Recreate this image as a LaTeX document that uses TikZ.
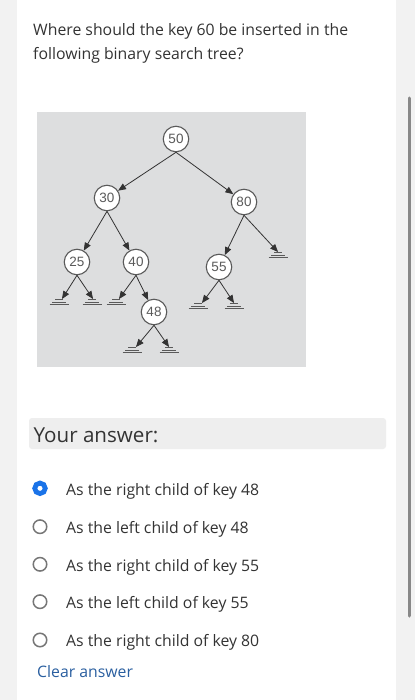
\documentclass[tikz,border=0pt]{standalone}
\usepackage{fontspec}
\setmainfont{Open Sans}
\newfontfamily\keyfont{Liberation Sans}
\usetikzlibrary{positioning}
\usetikzlibrary{arrows}
\definecolor{pagegray}{RGB}{242,242,242}
\definecolor{figgray}{RGB}{221,222,223}
\definecolor{ink}{RGB}{51,51,51}
\definecolor{treeink}{RGB}{90,90,90}
\definecolor{radioblue}{RGB}{26,115,232}
\definecolor{radiogray}{RGB}{118,118,118}
\definecolor{linkblue}{RGB}{42,95,160}
\definecolor{answergray}{RGB}{238,238,238}
\definecolor{scrollgray}{RGB}{136,136,136}
\tikzstyle{every key} = []
\tikzstyle{key} = [circle, draw=treeink, fill=white, line width=1.1pt, minimum size=25.5pt, inner sep=0pt, text=treeink, font=\keyfont\fontsize{13.5}{14}\selectfont, every key]
\tikzstyle{branch} = [->, >=triangle 45, draw=ink, line width=0.8pt]
\tikzstyle{nil} = [draw=treeink, line width=0.8pt]
\tikzstyle{plain} = [anchor=base west, inner sep=0pt, text=ink, font=\fontsize{15.8}{19}\selectfont]
\tikzstyle{radio} = [circle, draw=radiogray, line width=1.5pt, minimum size=13.5pt, inner sep=0pt]

% three bars under a null pointer
\newcommand{\nilmark}[2]{%
  \draw[nil] (#1) ++(#2-4,0.6) -- ++(8,0);
  \draw[nil] (#1) ++(#2-7,3.1) -- ++(14,0);
  \draw[nil] (#1) ++(#2-9.5,5.6) -- ++(19,0);
}

\begin{document}
\begin{tikzpicture}[x=1pt, y=-1pt]
    \useasboundingbox (0,0) rectangle (415,700);
    \fill[pagegray] (0,0) rectangle (415,700);
    \fill[white] (17,0) rectangle (396,700);
    \draw[scrollgray, line width=3pt, line cap=round] (409,98) -- (409,616);

    % question
    \node[plain] (q1) at (33,36) {Where should the key 60 be inserted in the};
    \node[plain] (q2) at (33,59.5) {following binary search tree?};

    % tree
    \fill[figgray] (37,112) rectangle (306,367);
    \node[key] (k50) at (176,139) {50};
    \node[key] (k30) at (107,198) {30};
    \node[key] (k80) at (244,202) {80};
    \node[key] (k25) at (77,262) {25};
    \node[key] (k40) at (136,262) {40};
    \node[key] (k55) at (219,267) {55};
    \node[key] (k48) at (154,312) {48};

    \coordinate (n80r) at (278,252);
    \coordinate (n25l) at (62,299);
    \coordinate (n25r) at (93,299);
    \coordinate (n40l) at (119,299);
    \coordinate (n55l) at (202,303);
    \coordinate (n55r) at (234,303);
    \coordinate (n48l) at (136,347);
    \coordinate (n48r) at (169,347);

    \draw[branch] (k50.south) -- (k30);
    \draw[branch] (k50.south) -- (k80);
    \draw[branch] (k30.south) -- (k25);
    \draw[branch] (k30.south) -- (k40);
    \draw[branch] (k80.south) -- (k55);
    \draw[branch] (k80.south) -- (n80r);
    \draw[branch] (k25.south) -- (n25l);
    \draw[branch] (k25.south) -- (n25r);
    \draw[branch] (k40.south) -- (n40l);
    \draw[branch] (k40.south) -- (k48);
    \draw[branch] (k55.south) -- (n55l);
    \draw[branch] (k55.south) -- (n55r);
    \draw[branch] (k48.south) -- (n48l);
    \draw[branch] (k48.south) -- (n48r);

    \nilmark{n80r}{0}
    \nilmark{n25l}{-3}
    \nilmark{n25r}{-1}
    \nilmark{n40l}{-3}
    \nilmark{n55l}{-4}
    \nilmark{n55r}{0}
    \nilmark{n48l}{-4}
    \nilmark{n48r}{0}

    % answers
    \fill[answergray, rounded corners=3pt] (29,418) rectangle (386,449);
    \node[plain, font=\fontsize{20.6}{24}\selectfont] (yours) at (33.5,442.7) {Your answer:};

    \node[radio, draw=radioblue, line width=4.8pt, minimum size=10.5pt] (r1) at (40,488.3) {};
    \node[radio] (r2) at (40,526.7) {};
    \node[radio] (r3) at (40,564.3) {};
    \node[radio] (r4) at (40,601.7) {};
    \node[radio] (r5) at (40,640) {};
    \node[plain] (o1) at (66,495) {As the right child of key 48};
    \node[plain] (o2) at (66,533) {As the left child of key 48};
    \node[plain] (o3) at (66,571) {As the right child of key 55};
    \node[plain] (o4) at (66,608.5) {As the left child of key 55};
    \node[plain] (o5) at (66,646.5) {As the right child of key 80};
    \node[plain, text=linkblue] (clear) at (37,677) {Clear answer};
\end{tikzpicture}
\end{document}
